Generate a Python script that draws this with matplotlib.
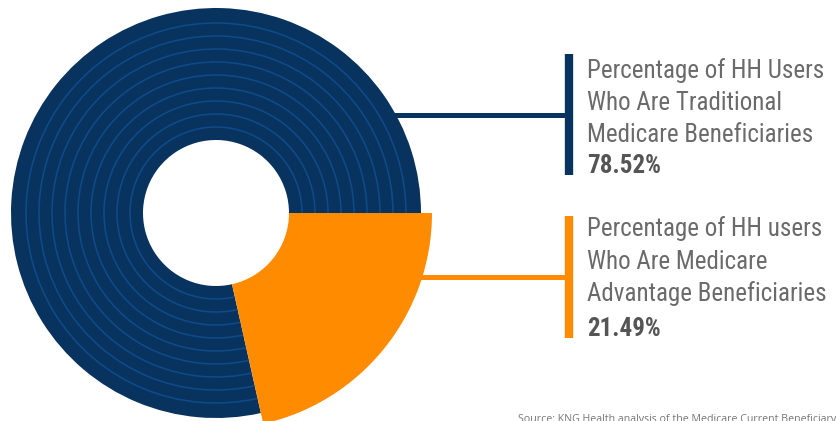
import matplotlib
matplotlib.use("Agg")
import matplotlib.pyplot as plt
import numpy as np

# ---- data ----
categories = ["Percentage of HH Users\nWho Are Traditional\nMedicare Beneficiaries",
              "Percentage of HH users\nWho Are Medicare\nAdvantage Beneficiaries"]
values = [78.52, 21.49]
value_labels = ["78.52%", "21.49%"]

NAVY = "#08335f"
RING = "#0f4a8a"
ORANGE = "#ff8c00"
TEXT = "#6a6a6a"
BOLD = "#555555"

W, H = 837, 421
fig = plt.figure(figsize=(W / 100, H / 100), dpi=100)
ax = fig.add_axes([0, 0, 1, 1])

cx, cy = 216, H - 213
r_in = 73
r_navy = 205
r_orange = 216

pie_vals = [values[1], values[0]]

ax.plot([380, 569], [H - 115, H - 115], color=NAVY, lw=3.6, solid_capstyle="butt", zorder=0)
ax.plot([400, 569], [H - 277, H - 277], color=ORANGE, lw=3.6, solid_capstyle="butt", zorder=0)
ax.plot([569, 569], [H - 54, H - 175], color=NAVY, lw=6, solid_capstyle="butt", zorder=0)
ax.plot([569, 569], [H - 216, H - 338], color=ORANGE, lw=6, solid_capstyle="butt", zorder=0)

ax.pie(pie_vals, radius=r_navy, center=(cx, cy), startangle=0, counterclock=False,
       colors=["none", NAVY], wedgeprops=dict(width=r_navy - r_in, linewidth=0))
for r in np.linspace(86, 190, 9):
    ax.pie(pie_vals, radius=r + 0.8, center=(cx, cy), startangle=0, counterclock=False,
           colors=["none", RING], wedgeprops=dict(width=1.6, linewidth=0))
ax.pie(pie_vals, radius=r_orange, center=(cx, cy), startangle=0, counterclock=False,
       colors=[ORANGE, "none"], wedgeprops=dict(width=r_orange - r_in, linewidth=0))

ax.set_xlim(0, W)
ax.set_ylim(0, H)
ax.set_aspect("equal")
ax.axis("off")

fam = ["Roboto Condensed", "Roboto", "DejaVu Sans"]
tx = 587
blocks = [(0, [78, 110.5, 141.5], 173), (1, [236.5, 269, 301.5], 336.5)]
for idx, ys, yb in blocks:
    lines = categories[idx].split("\n")
    for line, y in zip(lines, ys):
        ax.text(tx, H - y, line, fontsize=18, color=TEXT, family=fam, va="baseline", ha="left",
                fontstretch="condensed")
    ax.text(tx, H - yb, value_labels[idx], fontsize=18, color=BOLD, family=fam,
            fontweight="bold", va="baseline", ha="left", fontstretch="condensed")

ax.text(518, H - 422.5, "Source: KNG Health analysis of the Medicare Current Beneficiary Survey",
        fontsize=7.7, color="#777777", family=["Open Sans", "DejaVu Sans"], va="baseline", ha="left")

fig.savefig("out.png", dpi=100)
